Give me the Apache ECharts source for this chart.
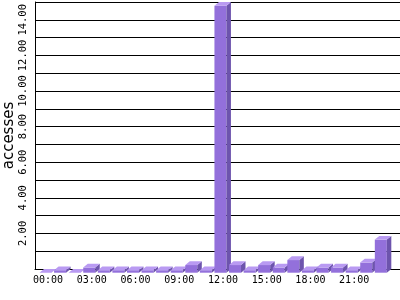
<!DOCTYPE html>
<html>
<head>
<meta charset="utf-8">
<script src="https://cdn.jsdelivr.net/npm/echarts@6/dist/echarts.min.js"></script>
<style>html,body{margin:0;padding:0;background:#fff}#c{width:400px;height:300px}</style>
</head>
<body>
<div id="c"></div>
<script>
var hours = ['00:00','01:00','02:00','03:00','04:00','05:00','06:00','07:00','08:00','09:00','10:00','11:00',
             '12:00','13:00','14:00','15:00','16:00','17:00','18:00','19:00','20:00','21:00','22:00','23:00'];
var accesses = [0, 0.14, 0, 0.29, 0.14, 0.14, 0.14, 0.14, 0.14, 0.14, 0.43, 0.14,
                15, 0.43, 0.14, 0.43, 0.29, 0.71, 0.14, 0.29, 0.29, 0.14, 0.57, 1.86];
var yMin = 0, yMax = 15, yStep = 1;
var yTitle = 'accesses';

var BAR_W = 12, DX = 4.5, DY = 3.7, OFF = 8.5;
var C_FRONT = '#9370db', C_TOP = '#b99af2', C_SIDE = '#6d54ad';

var data = accesses.map(function (v, i) { return [i, v]; });

var chart = echarts.init(document.getElementById('c'), null, {renderer: 'canvas'});
chart.setOption({
  animation: false,
  backgroundColor: '#fff',
  grid: [
    {left: 35, right: 0, top: 2, bottom: 31, containLabel: false, outerBoundsMode: 'none'},
    {left: 40.7, width: 349.9, top: 2, bottom: 31, containLabel: false, outerBoundsMode: 'none'}
  ],
  xAxis: [
    {gridIndex: 0, type: 'category', data: hours, boundaryGap: true,
     axisLine: {show: true, lineStyle: {color: '#000', width: 1}},
     axisTick: {show: false}, axisLabel: {show: false}, splitLine: {show: false}},
    {gridIndex: 1, type: 'category', data: hours, boundaryGap: true,
     axisLine: {show: false}, axisTick: {show: false}, splitLine: {show: false},
     axisLabel: {interval: 2, margin: 6, color: '#000', fontFamily: 'DejaVu Sans Mono', fontSize: 10}}
  ],
  yAxis: [
    {gridIndex: 0, type: 'value', min: yMin, max: yMax, interval: yStep,
     name: yTitle, nameLocation: 'middle', nameGap: 18, nameRotate: 90, nameMoveOverlap: false,
     nameTextStyle: {color: '#000', fontFamily: 'DejaVu Sans', fontSize: 15, padding: [0, 0, 0, 0]},
     axisLine: {show: true, lineStyle: {color: '#000', width: 1}},
     axisTick: {show: false},
     splitLine: {show: true, lineStyle: {color: '#000', width: 1}},
     axisLabel: {rotate: 90, margin: 6, align: 'center', verticalAlign: 'bottom',
       color: '#000', fontFamily: 'DejaVu Sans Mono', fontSize: 10.5,
       formatter: function (v) { return (v > 0 && v % 2 === 0) ? v.toFixed(2) : ''; }}},
    {gridIndex: 1, type: 'value', min: yMin, max: yMax, interval: yStep, show: false,
     splitLine: {show: false}}
  ],
  series: [{
    type: 'custom',
    xAxisIndex: 1, yAxisIndex: 1,
    clip: false,
    data: data,
    encode: {x: 0, y: 1},
    renderItem: function (params, api) {
      var i = api.value(0), v = api.value(1);
      var top = api.coord([i, v]);
      var base = api.coord([i, 0]);
      var x0 = top[0] - OFF, x1 = x0 + BAR_W;
      var yt = top[1], yb = base[1];
      var children = [];
      if (yb - yt > 0.01) {
        children.push({type: 'rect', shape: {x: x0, y: yt + DY, width: BAR_W, height: yb - yt},
          style: {fill: C_FRONT}});
        children.push({type: 'polygon', shape: {points: [[x1, yt + DY], [x1 + DX, yt], [x1 + DX, yb], [x1, yb + DY]]},
          style: {fill: C_SIDE}});
      }
      children.push({type: 'polygon', shape: {points: [[x0, yt + DY], [x1, yt + DY], [x1 + DX, yt], [x0 + DX, yt]]},
        style: {fill: C_TOP}});
      return {type: 'group', children: children};
    }
  }]
});
</script>
</body>
</html>
